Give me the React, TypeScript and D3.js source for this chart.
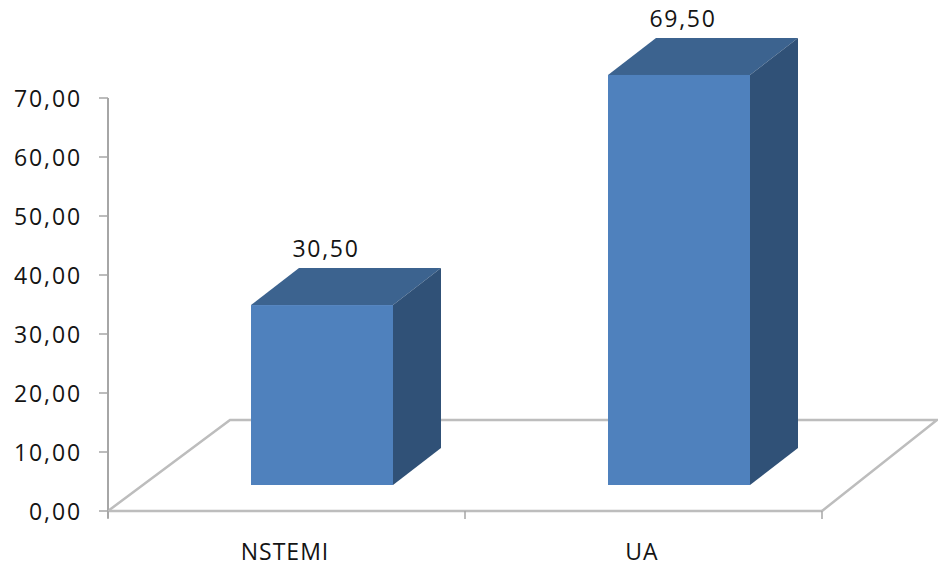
import React from "react";
import * as d3 from "d3";

const categories = ["NSTEMI", "UA"];
const values = [30.5, 69.5];
const valueLabels = ["30,50", "69,50"];
const axisTicks = [0, 10, 20, 30, 40, 50, 60, 70];

const WIDTH = 938;
const HEIGHT = 566;
const FONT = "'Open Sans', sans-serif";
const TEXT = "#141414";
const AXIS = "#a6a6a6";
const FLOOR = "#bdbdbd";

// Oblique projection of the 3D column chart
const BAR_W = 142;
const BAR_DX = 48;
const BAR_DY = 37;
const BAR_SHIFT = 35.5;
const BASE_LIFT = 26;
const FLOOR_DX_L = 122;
const FLOOR_DX_R = 115;
const FLOOR_DY = 91;

export default function App() {
  const x = d3.scaleBand<string>().domain(categories).range([108, 822]);
  const y = d3.scaleLinear().domain([0, 70]).range([511, 98]);
  const fmt = (v: number) => d3.format(".2f")(v).replace(".", ",");
  const poly = (pts: [number, number][]) => pts.map((p) => p.join(",")).join(" ");

  const x0 = x.range()[0];
  const x1 = x.range()[1];
  const y0 = y(0);
  const xEdges = [x0, (x0 + x1) / 2, x1];

  return (
    <svg
      width={WIDTH}
      height={HEIGHT}
      viewBox={`0 0 ${WIDTH} ${HEIGHT}`}
      style={{ position: "absolute", left: 0, top: 0, background: "#fff" }}
    >
      {/* floor plane */}
      <polyline
        points={poly([
          [x0, y0],
          [x0 + FLOOR_DX_L, y0 - FLOOR_DY],
          [x1 + FLOOR_DX_R, y0 - FLOOR_DY],
          [x1, y0],
        ])}
        fill="none"
        stroke={FLOOR}
        strokeWidth={2.5}
      />

      {/* value axis */}
      <line x1={x0} x2={x0} y1={y(70)} y2={y0 + 7} stroke={AXIS} strokeWidth={2} />
      {axisTicks.map((t) => (
        <g key={t}>
          <line x1={x0 - 9} x2={x0} y1={y(t)} y2={y(t)} stroke={AXIS} strokeWidth={1.5} />
          <text
            x={82}
            y={y(t) + 9}
            textAnchor="end"
            fontFamily={FONT}
            fontSize={23}
            letterSpacing={1.9}
            fill={TEXT}
          >
            {fmt(t)}
          </text>
        </g>
      ))}

      {/* category axis */}
      <line x1={x0} x2={x1} y1={y0} y2={y0} stroke={FLOOR} strokeWidth={2.5} />
      {xEdges.map((e) => (
        <line key={e} x1={e} x2={e} y1={y0} y2={y0 + 8} stroke={AXIS} strokeWidth={1.5} />
      ))}
      {categories.map((c) => (
        <text
          key={c}
          x={x(c)! + x.bandwidth() / 2 - 1.5}
          y={560}
          textAnchor="middle"
          fontFamily={FONT}
          fontSize={23}
          letterSpacing={1}
          fill={TEXT}
        >
          {c}
        </text>
      ))}

      {/* columns */}
      {categories.map((c, i) => {
        const left = x(c)! + x.bandwidth() / 2 + BAR_SHIFT - BAR_W / 2;
        const right = left + BAR_W;
        const base = y0 - BASE_LIFT;
        const top = base - (y0 - y(values[i]));
        return (
          <g key={c}>
            <polygon
              points={poly([
                [left, top],
                [left + BAR_DX, top - BAR_DY],
                [right + BAR_DX, top - BAR_DY],
                [right, top],
              ])}
              fill="#3c638f"
            />
            <polygon
              points={poly([
                [right, top],
                [right + BAR_DX, top - BAR_DY],
                [right + BAR_DX, base - BAR_DY],
                [right, base],
              ])}
              fill="#305177"
            />
            <rect x={left} y={top} width={BAR_W} height={base - top} fill="#4f81bd" />
            <text
              x={left + BAR_W / 2 + 4}
              y={top - BAR_DY - 11}
              textAnchor="middle"
              fontFamily={FONT}
              fontSize={23}
              letterSpacing={1.7}
              fill={TEXT}
            >
              {valueLabels[i]}
            </text>
          </g>
        );
      })}
    </svg>
  );
}
